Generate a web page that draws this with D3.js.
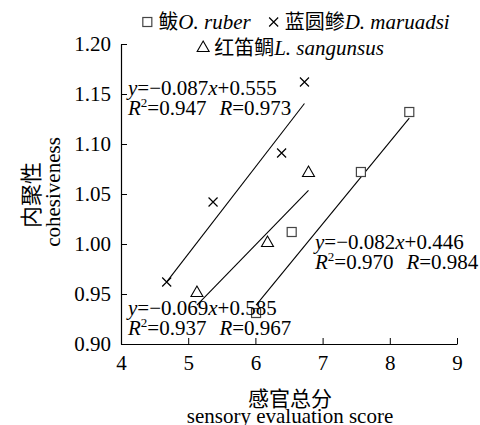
<!DOCTYPE html>
<html>
<head>
<meta charset="utf-8">
<script src="https://cdn.jsdelivr.net/npm/d3@7"></script>
<style>
  html, body { margin: 0; padding: 0; background: #fff; }
  svg { display: block; }
  text { font-family: "Liberation Serif", "Noto Sans CJK SC", serif; fill: #000; }
</style>
</head>
<body>
<svg id="chart" width="480" height="425"></svg>
<script>
// Axis ticks
const xTicks = [4, 5, 6, 7, 8, 9];
const yTicks = [0.90, 0.95, 1.00, 1.05, 1.10, 1.15, 1.20];

// Species (legend order)
const speciesCn = ["鲅", "蓝圆鲹", "红笛鲷"];
const speciesLatin = ["O. ruber", "D. maruadsi", "L. sangunsus"];

// Sensory score (x) vs cohesiveness (y)
const ruberX = [6.01, 6.54, 7.57, 8.29];
const ruberY = [0.931, 1.012, 1.072, 1.132];
const maruadsiX = [4.68, 5.37, 6.39, 6.73];
const maruadsiY = [0.962, 1.042, 1.091, 1.162];
const sangunsusX = [5.13, 6.18, 6.79];
const sangunsusY = [0.951, 1.001, 1.071];

// Linear fits (slope magnitude, intercept, R², R)
const fitSlope = [0.082, 0.087, 0.069];
const fitIntercept = [0.446, 0.555, 0.585];
const fitR2 = [0.970, 0.947, 0.937];
const fitR = [0.984, 0.973, 0.967];

const svg = d3.select("#chart");
const x = d3.scaleLinear().domain([4, 9]).range([121, 457]);
const y = d3.scaleLinear().domain([0.90, 1.20]).range([344, 44]);

const FS = 21;

// Axes with inward ticks
const gx = svg.append("g").attr("transform", `translate(0,${y(0.90)})`)
  .call(d3.axisBottom(x).tickValues(xTicks).tickFormat(d3.format("d"))
    .tickSizeInner(-6).tickSizeOuter(0).tickPadding(11));
const gy = svg.append("g").attr("transform", `translate(${x(4)},0)`)
  .call(d3.axisLeft(y).tickValues(yTicks).tickFormat(d3.format(".2f"))
    .tickSizeInner(-6).tickSizeOuter(0).tickPadding(10));
[gx, gy].forEach(g => {
  g.selectAll("path.domain").attr("stroke", "#000").attr("stroke-width", 1.2);
  g.selectAll(".tick line").attr("stroke", "#000").attr("stroke-width", 1);
  g.selectAll(".tick text").attr("font-size", FS)
    .attr("font-family", "Liberation Serif").attr("fill", "#000");
});
gx.select(".tick:first-of-type line").remove();

// Axis titles
svg.append("text").attr("x", 290).attr("y", 406).attr("text-anchor", "middle")
  .attr("font-size", FS).text("感官总分");
svg.append("text").attr("x", 290).attr("y", 423).attr("text-anchor", "middle")
  .attr("font-size", FS).text("sensory evaluation score");
svg.append("text").attr("transform", "translate(39,195) rotate(-90)")
  .attr("text-anchor", "middle").attr("font-size", 22).text("内聚性");
svg.append("text").attr("transform", "translate(60,192) rotate(-90)")
  .attr("text-anchor", "middle").attr("font-size", FS).text("cohesiveness");

// Marker drawers
function drawMarker(g, kind, cx, cy) {
  if (kind === 0) {
    g.append("rect").attr("x", cx - 4.5).attr("y", cy - 4.5).attr("width", 9).attr("height", 9)
      .attr("fill", "#fff").attr("stroke", "#444").attr("stroke-width", 1.2);
  } else if (kind === 1) {
    g.append("path").attr("d", `M${cx-4.5},${cy-4.5}L${cx+4.5},${cy+4.5}M${cx-4.5},${cy+4.5}L${cx+4.5},${cy-4.5}`)
      .attr("stroke", "#000").attr("stroke-width", 1.2).attr("fill", "none");
  } else {
    g.append("path").attr("d", d3.symbol(d3.symbolTriangle, 62)())
      .attr("transform", `translate(${cx},${cy})`)
      .attr("fill", "#fff").attr("stroke", "#000").attr("stroke-width", 1.1);
  }
}

const seriesX = [ruberX, maruadsiX, sangunsusX];
const seriesY = [ruberY, maruadsiY, sangunsusY];

// Fitted lines, spanning each series' x range
const line = d3.line().x(d => x(d[0])).y(d => y(d[1]));
seriesX.forEach((xs, i) => {
  const [x0, x1] = d3.extent(xs);
  const pts = [x0, x1].map(v => [v, fitSlope[i] * v + fitIntercept[i]]);
  svg.append("path").attr("d", line(pts)).attr("fill", "none")
    .attr("stroke", "#000").attr("stroke-width", 1.1);
});

// Points
seriesX.forEach((xs, i) => {
  const g = svg.append("g");
  xs.forEach((v, j) => drawMarker(g, i, x(v), y(seriesY[i][j])));
});

// Regression equations
const eqPos = [[315, 249], [128, 95], [128, 315]];
function fmt3(v) { return d3.format(".3f")(v); }
eqPos.forEach((p, i) => {
  const t1 = svg.append("text").attr("x", p[0]).attr("y", p[1]).attr("font-size", FS);
  t1.append("tspan").attr("font-style", "italic").text("y");
  t1.append("tspan").text("=\u2212" + fmt3(fitSlope[i]));
  t1.append("tspan").attr("font-style", "italic").text("x");
  t1.append("tspan").text("+" + fmt3(fitIntercept[i]));
  const t2 = svg.append("text").attr("x", p[0]).attr("y", p[1] + 20).attr("font-size", FS);
  t2.append("tspan").attr("font-style", "italic").text("R");
  t2.append("tspan").attr("font-size", 13).attr("dy", -8).text("2");
  t2.append("tspan").attr("dy", 8).text("=" + fmt3(fitR2[i]));
  t2.append("tspan").attr("font-style", "italic").attr("dx", 13).text("R");
  t2.append("tspan").text("=" + fmt3(fitR[i]));
});

// Legend: two rows, centred
const legendRows = [[0, 1], [2]];
const rowY = [29, 55];
const rowCx = [296, 291];
legendRows.forEach((row, r) => {
  const g = svg.append("g");
  let cur = 0;
  row.forEach((k, n) => {
    if (n > 0) cur += 18;
    drawMarker(g, k, cur + 5, rowY[r] - 7);
    cur += 16;
    const t = g.append("text").attr("x", cur).attr("y", rowY[r]).attr("font-size", FS);
    t.append("tspan").attr("font-family", "Noto Sans CJK SC").attr("font-size", 20).text(speciesCn[k]);
    t.append("tspan").attr("font-style", "italic").text(speciesLatin[k]);
    cur += t.node().getComputedTextLength();
  });
  g.attr("transform", `translate(${rowCx[r] - cur / 2},0)`);
});
</script>
</body>
</html>
